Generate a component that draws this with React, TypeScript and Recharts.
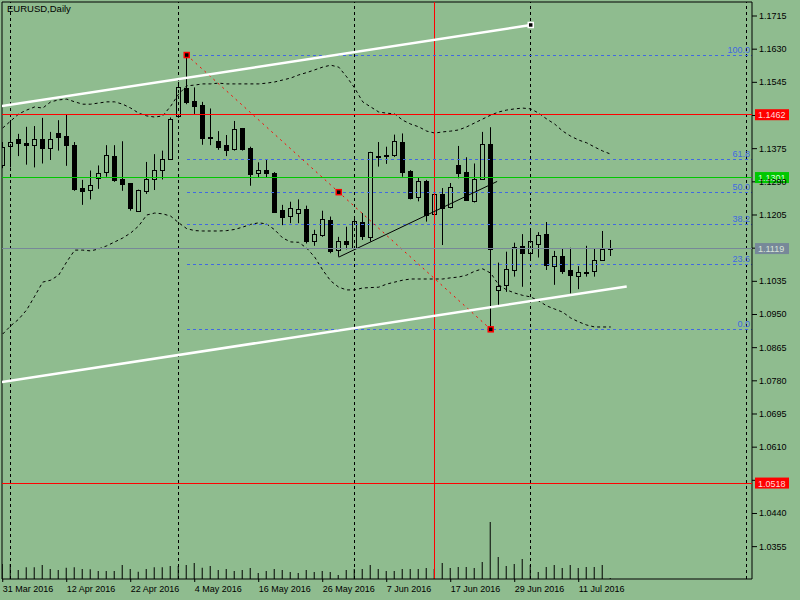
import React from 'react';
import { ComposedChart, Bar, Line, XAxis, YAxis, ReferenceLine, ReferenceDot } from 'recharts';

// EURUSD daily bars, 31 Mar 2016 .. 15 Jul 2016
const dates = [
  '31 Mar', '1 Apr', '4 Apr', '5 Apr', '6 Apr', '7 Apr', '8 Apr', '11 Apr', '12 Apr', '13 Apr',
  '14 Apr', '15 Apr', '18 Apr', '19 Apr', '20 Apr', '21 Apr', '22 Apr', '25 Apr', '26 Apr', '27 Apr',
  '28 Apr', '29 Apr', '2 May', '3 May', '4 May', '5 May', '6 May', '9 May', '10 May', '11 May',
  '12 May', '13 May', '16 May', '17 May', '18 May', '19 May', '20 May', '23 May', '24 May', '25 May',
  '26 May', '27 May', '30 May', '31 May', '1 Jun', '2 Jun', '3 Jun', '6 Jun', '7 Jun', '8 Jun',
  '9 Jun', '10 Jun', '13 Jun', '14 Jun', '15 Jun', '16 Jun', '17 Jun', '20 Jun', '21 Jun', '22 Jun',
  '23 Jun', '24 Jun', '27 Jun', '28 Jun', '29 Jun', '30 Jun', '1 Jul', '4 Jul', '5 Jul', '6 Jul',
  '7 Jul', '8 Jul', '11 Jul', '12 Jul', '13 Jul', '14 Jul', '15 Jul',
];

const opens = [
  1.1335, 1.1381, 1.1399, 1.1390, 1.1384, 1.1399, 1.1376, 1.1416, 1.1407, 1.1384,
  1.1274, 1.1268, 1.1298, 1.1314, 1.1356, 1.1298, 1.1286, 1.1216, 1.1267, 1.1296,
  1.1322, 1.1349, 1.1459, 1.1530, 1.1497, 1.1487, 1.1405, 1.1395, 1.1384, 1.1373,
  1.1427, 1.1377, 1.1312, 1.1320, 1.1313, 1.1218, 1.1201, 1.1209, 1.1220, 1.1139,
  1.1152, 1.1191, 1.1114, 1.1139, 1.1120, 1.1186, 1.1149, 1.1354, 1.1359, 1.1357,
  1.1392, 1.1319, 1.1250, 1.1292, 1.1207, 1.1258, 1.1225, 1.1333, 1.1315, 1.1239,
  1.1296, 1.1387, 1.1012, 1.1024, 1.1063, 1.1126, 1.1107, 1.1130, 1.1156, 1.1074,
  1.1100, 1.1063, 1.1049, 1.1058, 1.1060, 1.1089, 1.1121,
];
const highs = [
  1.1392, 1.1444, 1.1413, 1.1431, 1.1433, 1.1454, 1.1418, 1.1448, 1.1462, 1.1392,
  1.1295, 1.1319, 1.1332, 1.1384, 1.1384, 1.1394, 1.1287, 1.1270, 1.1341, 1.1361,
  1.1370, 1.1455, 1.1546, 1.1615, 1.1532, 1.1495, 1.1478, 1.1420, 1.1410, 1.1446,
  1.1428, 1.1380, 1.1340, 1.1346, 1.1315, 1.1231, 1.1239, 1.1245, 1.1229, 1.1167,
  1.1216, 1.1201, 1.1149, 1.1175, 1.1201, 1.1210, 1.1367, 1.1392, 1.1380, 1.1411,
  1.1414, 1.1320, 1.1302, 1.1295, 1.1295, 1.1274, 1.1287, 1.1382, 1.1353, 1.1337,
  1.1418, 1.1430, 1.1083, 1.1111, 1.1134, 1.1156, 1.1169, 1.1161, 1.1187, 1.1113,
  1.1120, 1.1121, 1.1074, 1.1126, 1.1120, 1.1164, 1.1141,
];
const lows = [
  1.1325, 1.1327, 1.1356, 1.1334, 1.1327, 1.1337, 1.1346, 1.1370, 1.1331, 1.1267,
  1.1231, 1.1245, 1.1272, 1.1303, 1.1290, 1.1267, 1.1216, 1.1215, 1.1259, 1.1269,
  1.1296, 1.1346, 1.1454, 1.1489, 1.1464, 1.1385, 1.1384, 1.1372, 1.1356, 1.1370,
  1.1370, 1.1280, 1.1301, 1.1301, 1.1212, 1.1179, 1.1184, 1.1184, 1.1132, 1.1126,
  1.1149, 1.1107, 1.1098, 1.1117, 1.1117, 1.1141, 1.1137, 1.1329, 1.1336, 1.1354,
  1.1303, 1.1245, 1.1240, 1.1188, 1.1197, 1.1128, 1.1222, 1.1299, 1.1242, 1.1237,
  1.1295, 1.0912, 1.0974, 1.1008, 1.1047, 1.1021, 1.1090, 1.1096, 1.1064, 1.1026,
  1.1054, 1.1004, 1.1015, 1.1047, 1.1047, 1.1088, 1.1100,
];
const closes = [
  1.1380, 1.1391, 1.1390, 1.1384, 1.1399, 1.1375, 1.1399, 1.1406, 1.1385, 1.1272,
  1.1266, 1.1281, 1.1312, 1.1358, 1.1295, 1.1286, 1.1221, 1.1269, 1.1298, 1.1320,
  1.1349, 1.1452, 1.1534, 1.1493, 1.1485, 1.1403, 1.1404, 1.1380, 1.1370, 1.1425,
  1.1373, 1.1310, 1.1320, 1.1313, 1.1213, 1.1201, 1.1222, 1.1220, 1.1138, 1.1156,
  1.1194, 1.1111, 1.1138, 1.1132, 1.1189, 1.1149, 1.1366, 1.1355, 1.1356, 1.1394,
  1.1316, 1.1249, 1.1291, 1.1205, 1.1258, 1.1222, 1.1276, 1.1313, 1.1243, 1.1296,
  1.1386, 1.1117, 1.1023, 1.1066, 1.1122, 1.1107, 1.1138, 1.1153, 1.1076, 1.1100,
  1.1062, 1.1049, 1.1058, 1.1057, 1.1089, 1.1117, 1.1119,
];
// tick volume, thousands
const volumes = [
  150, 150, 90, 117, 117, 140, 100, 90, 113, 117,
  100, 97, 80, 80, 80, 140, 100, 73, 100, 117,
  117, 130, 130, 140, 160, 113, 130, 90, 100, 80,
  90, 110, 60, 80, 100, 90, 70, 60, 90, 70,
  80, 70, 40, 90, 100, 100, 140, 100, 80, 80,
  100, 100, 100, 110, 100, 160, 110, 120, 120, 110,
  170, 570, 220, 130, 150, 200, 140, 70, 120, 140,
  110, 140, 110, 120, 120, 140, 10,
];
const bbUpper = [
  1.1428, 1.1446, 1.1464, 1.1474, 1.1482, 1.1479, 1.1495, 1.1500, 1.1502, 1.1495,
  1.1489, 1.1489, 1.1492, 1.1495, 1.1495, 1.1489, 1.1479, 1.1466, 1.1459, 1.1456,
  1.1459, 1.1484, 1.1515, 1.1536, 1.1538, 1.1541, 1.1541, 1.1543, 1.1541, 1.1541,
  1.1541, 1.1541, 1.1541, 1.1543, 1.1546, 1.1551, 1.1556, 1.1564, 1.1570, 1.1577,
  1.1584, 1.1589, 1.1584, 1.1559, 1.1530, 1.1495, 1.1482, 1.1469, 1.1466, 1.1464,
  1.1448, 1.1438, 1.1431, 1.1420, 1.1415, 1.1418, 1.1420, 1.1423, 1.1431, 1.1441,
  1.1451, 1.1461, 1.1469, 1.1474, 1.1477, 1.1479, 1.1477, 1.1466, 1.1451, 1.1438,
  1.1420, 1.1407, 1.1397, 1.1390, 1.1379, 1.1369, 1.1361,
];
const bbLower = [
  1.0900, 1.0921, 1.0938, 1.0962, 1.0997, 1.1033, 1.1038, 1.1051, 1.1085, 1.1115,
  1.1115, 1.1113, 1.1118, 1.1126, 1.1136, 1.1146, 1.1159, 1.1177, 1.1205, 1.1210,
  1.1208, 1.1202, 1.1185, 1.1170, 1.1165, 1.1164, 1.1164, 1.1164, 1.1165, 1.1168,
  1.1174, 1.1181, 1.1185, 1.1182, 1.1167, 1.1146, 1.1136, 1.1135, 1.1120, 1.1097,
  1.1064, 1.1036, 1.1020, 1.1013, 1.1013, 1.1018, 1.1019, 1.1020, 1.1028, 1.1033,
  1.1038, 1.1041, 1.1041, 1.1041, 1.1041, 1.1041, 1.1044, 1.1046, 1.1051, 1.1061,
  1.1067, 1.1056, 1.1026, 1.1013, 1.1005, 1.0999, 1.0995, 1.0985, 1.0972, 1.0964,
  1.0956, 1.0941, 1.0931, 1.0923, 1.0918, 1.0918, 1.0918,
];

const priceTicks = [
  1.1715, 1.1630, 1.1545, 1.1460, 1.1375, 1.1290, 1.1205, 1.1120, 1.1035,
  1.0950, 1.0865, 1.0780, 1.0695, 1.0610, 1.0525, 1.0440, 1.0355,
];
const dateTicks = [0, 8, 16, 24, 32, 40, 48, 56, 64, 72];
const separators = [1, 22, 44, 66, 93];

// fibonacci retracement between 3 May high and 24 Jun low
const fibHighIdx = 23;
const fibLowIdx = 61;
const fibHigh = 1.1615;
const fibLow = 1.0912;
const fibRatios = [0, 23.6, 38.2, 50, 61.8, 100];

// drawn objects
const channelUpper = [{ x: -0.1, y: 1.1484 }, { x: 66, y: 1.1692 }];
const channelLower = [{ x: -0.1, y: 1.0777 }, { x: 78, y: 1.1022 }];
const trendLine = [{ x: 42, y: 1.1097 }, { x: 61.8, y: 1.1291 }];
const redLevels = [1.1462, 1.0518];
const greenLevel = 1.1301;
const bid = 1.1119;
const markedBar = 54;

const BG = '#8FBC8F';
const FONT = '"Liberation Sans", Arial, sans-serif';
const xMin = -0.09;
const xMax = 93.66;
const yMin = 1.02721;
const yMax = 1.17509;

const tagLevels = [...redLevels, greenLevel, bid];

const data = dates.map((d, i) => ({
  i,
  date: d,
  open: opens[i],
  high: highs[i],
  low: lows[i],
  close: closes[i],
  vol: volumes[i],
  upper: bbUpper[i],
  lower: bbLower[i],
}));

const Candle = (props: any) => {
  const { x, y, width, height } = props;
  const d = props.payload || props;
  const top = Math.min(y, y + height);
  const h = Math.abs(height);
  const span = d.high - d.low || 1;
  const yo = top + ((d.high - d.open) / span) * h;
  const yc = top + ((d.high - d.close) / span) * h;
  const cx = Math.round(x + width / 2) + 0.5;
  const bull = d.close >= d.open;
  const bt = Math.round(Math.min(yo, yc)) + 0.5;
  const bh = Math.max(Math.round(Math.abs(yc - yo)), 1);
  return (
    <g>
      <line x1={cx} x2={cx} y1={top} y2={top + h} stroke="#000" strokeWidth={1} />
      <rect x={cx - 2} y={bt} width={4} height={bh} fill={bull ? BG : '#000'} stroke="#000" strokeWidth={1} />
    </g>
  );
};

const DateTick = (props: any) => {
  const { x, y, payload } = props;
  return (
    <text x={x} y={y + 8} fontSize={9} fontFamily={FONT} fill="#000">
      {`${dates[payload.value]} 2016`}
    </text>
  );
};

// tick labels that sit under a price tag are covered in the terminal
const PriceTick = (props: any) => {
  const { x, y, payload } = props;
  if (tagLevels.some((t) => Math.abs(t - payload.value) < 0.0009)) return <g />;
  return (
    <text x={x} y={y + 3} fontSize={9} fontFamily={FONT} fill="#000">
      {payload.value.toFixed(4)}
    </text>
  );
};

const priceTag = (text: string, bg: string, fg: string) => (p: any) => {
  const vb = p.viewBox || {};
  const bx = vb.x + vb.width + 3;
  return (
    <g>
      <rect x={bx} y={vb.y - 5.5} width={34} height={11} fill={bg} />
      <text x={bx + 3} y={vb.y + 3.5} fontSize={9} fontFamily={FONT} fill={fg}>{text}</text>
    </g>
  );
};

const fibTag = (text: string) => (p: any) => {
  const vb = p.viewBox || {};
  return (
    <text x={vb.x + vb.width - 2} y={vb.y - 2.5} textAnchor="end" fontSize={9} fontFamily={FONT} fill="#4169E1">
      {text}
    </text>
  );
};

const marker = (ring: string) => (p: any) => (
  <rect x={p.cx - 2.5} y={p.cy - 2.5} width={5} height={5} fill="#000" stroke={ring} strokeWidth={1.5} />
);

export default function App() {
  const fibMid = (fibHigh + fibLow) / 2;
  return (
    <div style={{ position: 'absolute', left: 0, top: 0, width: 800, height: 600, background: BG }}>
      <div style={{ position: 'absolute', left: 7, top: 3, fontFamily: FONT, fontSize: 9.5, color: '#000', zIndex: 2 }}>
        EURUSD,Daily
      </div>
      <ComposedChart width={800} height={600} data={data} margin={{ top: 2, right: 0, bottom: 0, left: 2 }}>
        <XAxis
          dataKey="i"
          type="number"
          domain={[xMin, xMax]}
          allowDataOverflow
          ticks={dateTicks}
          interval={0}
          height={21}
          tickSize={3}
          stroke="#000"
          tick={<DateTick />}
        />
        <XAxis xAxisId="v" dataKey="i" type="number" domain={[xMin, xMax]} allowDataOverflow hide />
        <YAxis
          orientation="right"
          type="number"
          domain={[yMin, yMax]}
          allowDataOverflow
          ticks={priceTicks}
          interval={0}
          width={48}
          tickSize={5}
          stroke="#000"
          tick={<PriceTick />}
        />
        <YAxis yAxisId="vol" domain={[0, 5770]} hide />

        <ReferenceLine y={yMax} stroke="#000" ifOverflow="visible" />
        <ReferenceLine x={xMin} stroke="#000" ifOverflow="visible" />

        <Bar xAxisId="v" yAxisId="vol" dataKey="vol" barSize={1} fill="#000" isAnimationActive={false} />
        <Bar dataKey={(d: any) => [d.low, d.high]} barSize={5} shape={<Candle />} isAnimationActive={false} />

        <Line dataKey="upper" stroke="#000" strokeDasharray="3 3" dot={false} strokeWidth={1} isAnimationActive={false} />
        <Line dataKey="lower" stroke="#000" strokeDasharray="3 3" dot={false} strokeWidth={1} isAnimationActive={false} />

        {separators.map((s) => (
          <ReferenceLine key={`sep${s}`} x={s} stroke="#000" strokeDasharray="3 3" shapeRendering="crispEdges" />
        ))}
        <ReferenceLine x={markedBar} stroke="#FF0000" shapeRendering="crispEdges" />

        {fibRatios.map((r) => {
          const lvl = fibLow + ((fibHigh - fibLow) * r) / 100;
          return (
            <ReferenceLine
              key={`fib${r}`}
              segment={[{ x: fibHighIdx, y: lvl }, { x: xMax, y: lvl }]}
              stroke="#4169E1"
              strokeDasharray="3 3"
              shapeRendering="crispEdges"
              ifOverflow="visible"
              label={fibTag(r.toFixed(1))}
            />
          );
        })}
        <ReferenceLine
          segment={[{ x: fibHighIdx, y: fibHigh }, { x: fibLowIdx, y: fibLow }]}
          stroke="#FF0000"
          strokeDasharray="2 4"
        />

        <ReferenceLine y={bid} stroke="#778899" shapeRendering="crispEdges" zIndex={600}
          label={priceTag(bid.toFixed(4), '#778899', '#D8E4D8')} />
        <ReferenceLine y={greenLevel} stroke="#00C800" shapeRendering="crispEdges" zIndex={600}
          label={priceTag(greenLevel.toFixed(4), '#00C800', '#D8FFD8')} />
        {redLevels.map((lv) => (
          <ReferenceLine key={`r${lv}`} y={lv} stroke="#FF0000" shapeRendering="crispEdges" zIndex={600}
            label={priceTag(lv.toFixed(4), '#FF0000', '#FFD8D8')} />
        ))}

        <ReferenceLine segment={trendLine} stroke="#000" strokeWidth={1} ifOverflow="hidden" />
        <ReferenceLine segment={channelUpper} stroke="#FFFFFF" strokeWidth={2.5} ifOverflow="hidden" />
        <ReferenceLine segment={channelLower} stroke="#FFFFFF" strokeWidth={2.5} ifOverflow="hidden" />

        <ReferenceDot x={fibHighIdx} y={fibHigh} r={3} shape={marker('#FF0000')} />
        <ReferenceDot x={(fibHighIdx + fibLowIdx) / 2} y={fibMid} r={3} shape={marker('#FF0000')} />
        <ReferenceDot x={fibLowIdx} y={fibLow} r={3} shape={marker('#FF0000')} />
        <ReferenceDot x={channelUpper[1].x} y={channelUpper[1].y} r={3} shape={marker('#FFFFFF')} />
      </ComposedChart>
    </div>
  );
}
